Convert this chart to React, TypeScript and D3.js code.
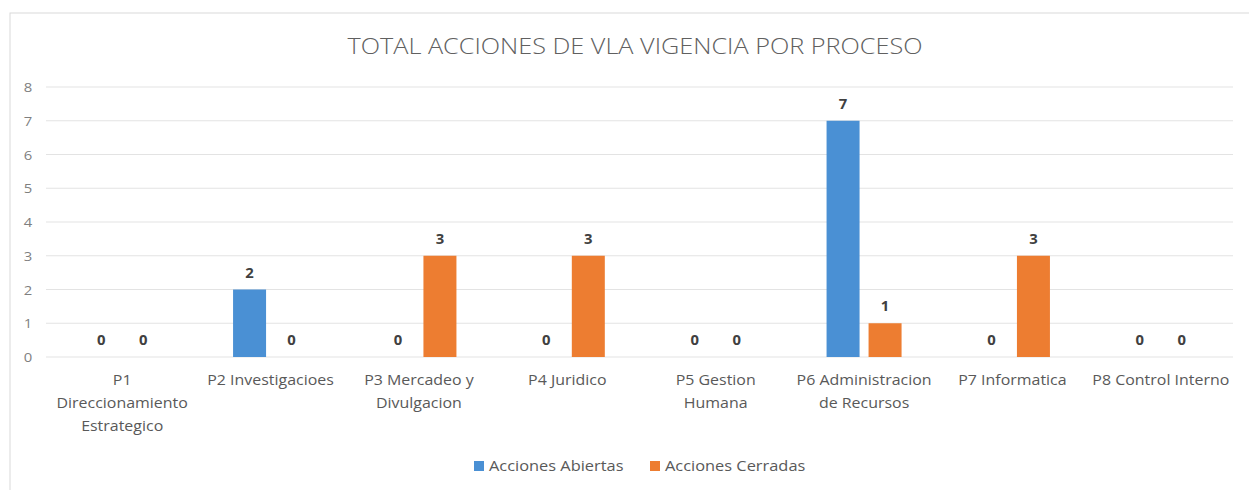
import React from "react";
import * as d3 from "d3";

// chart data
const categories = [
  ["P1", "Direccionamiento", "Estrategico"],
  ["P2 Investigacioes"],
  ["P3 Mercadeo y", "Divulgacion"],
  ["P4 Juridico"],
  ["P5 Gestion", "Humana"],
  ["P6 Administracion", "de Recursos"],
  ["P7 Informatica"],
  ["P8 Control Interno"],
];
const abiertas = [0, 2, 0, 0, 0, 7, 0, 0];
const cerradas = [0, 0, 3, 3, 0, 1, 3, 0];
const seriesNames = ["Acciones Abiertas", "Acciones Cerradas"];
const seriesColors = ["#4a90d4", "#ed7d31"];
const yTicks = [0, 1, 2, 3, 4, 5, 6, 7, 8];
const title = "TOTAL ACCIONES DE VLA VIGENCIA POR PROCESO";

const W = 1249;
const H = 490;
const font = "'Open Sans', Lato, sans-serif";

// the source screenshot is a bit stretched sideways, so text gets a horizontal scale
function Stretch({ x, y, sx, children }: { x: number; y: number; sx: number; children: any }) {
  return <g transform={`translate(${x},${y}) scale(${sx},1)`}>{children}</g>;
}

export default function App() {
  const x = d3
    .scaleBand<number>()
    .domain(d3.range(categories.length))
    .range([48, 1235]);
  const y = d3.scaleLinear().domain([0, 8]).range([357, 87]);

  const barW = 33;
  const gap = 9;
  const series = [abiertas, cerradas];

  return (
    <svg
      width={W}
      height={H}
      style={{ position: "absolute", left: 0, top: 0, background: "#fff" }}
      fontFamily={font}
    >
      {/* chart frame */}
      <rect x={10} y={13} width={W + 20} height={H + 20} fill="#fff" stroke="#d9d9d9" />

      <Stretch x={635} y={54} sx={1.175}>
        <text textAnchor="middle" fontSize={21.5} fontWeight={300} fill="#606060">
          {title}
        </text>
      </Stretch>

      {/* gridlines + y ticks */}
      {yTicks.map((t) => (
        <g key={t}>
          <line x1={46} x2={1233} y1={y(t)} y2={y(t)} stroke="#e3e3e3" />
          <Stretch x={28} y={y(t) + 5} sx={1.1}>
            <text textAnchor="middle" fontSize={13.5} fill="#7f7f7f">
              {t}
            </text>
          </Stretch>
        </g>
      ))}

      {/* bars + labels */}
      {categories.map((_, i) => {
        const cx = (x(i) as number) + x.bandwidth() / 2;
        return series.map((vals, s) => {
          const bx = s === 0 ? cx - gap / 2 - barW : cx + gap / 2;
          const v = vals[i];
          return (
            <g key={`${i}-${s}`}>
              {v > 0 && (
                <rect x={bx} y={y(v)} width={barW} height={y(0) - y(v)} fill={seriesColors[s]} />
              )}
              <Stretch x={bx + barW / 2} y={y(v) - 12} sx={1.1}>
                <text textAnchor="middle" fontSize={13.5} fontWeight="bold" fill="#404040">
                  {v}
                </text>
              </Stretch>
            </g>
          );
        });
      })}

      {/* category labels */}
      {categories.map((lines, i) => {
        const cx = (x(i) as number) + x.bandwidth() / 2;
        return (
          <Stretch key={i} x={cx} y={385} sx={1.1}>
            <text textAnchor="middle" fontSize={14.5} fill="#595959">
              {lines.map((l, k) => (
                <tspan key={k} x={0} y={k * 23}>
                  {l}
                </tspan>
              ))}
            </text>
          </Stretch>
        );
      })}

      {/* legend */}
      {seriesNames.map((n, s) => {
        const lx = [474, 650][s];
        return (
          <g key={n}>
            <rect x={lx} y={461} width={10} height={10} fill={seriesColors[s]} />
            <Stretch x={lx + 15} y={471} sx={1.13}>
              <text fontSize={14.5} fill="#595959">
                {n}
              </text>
            </Stretch>
          </g>
        );
      })}
    </svg>
  );
}
